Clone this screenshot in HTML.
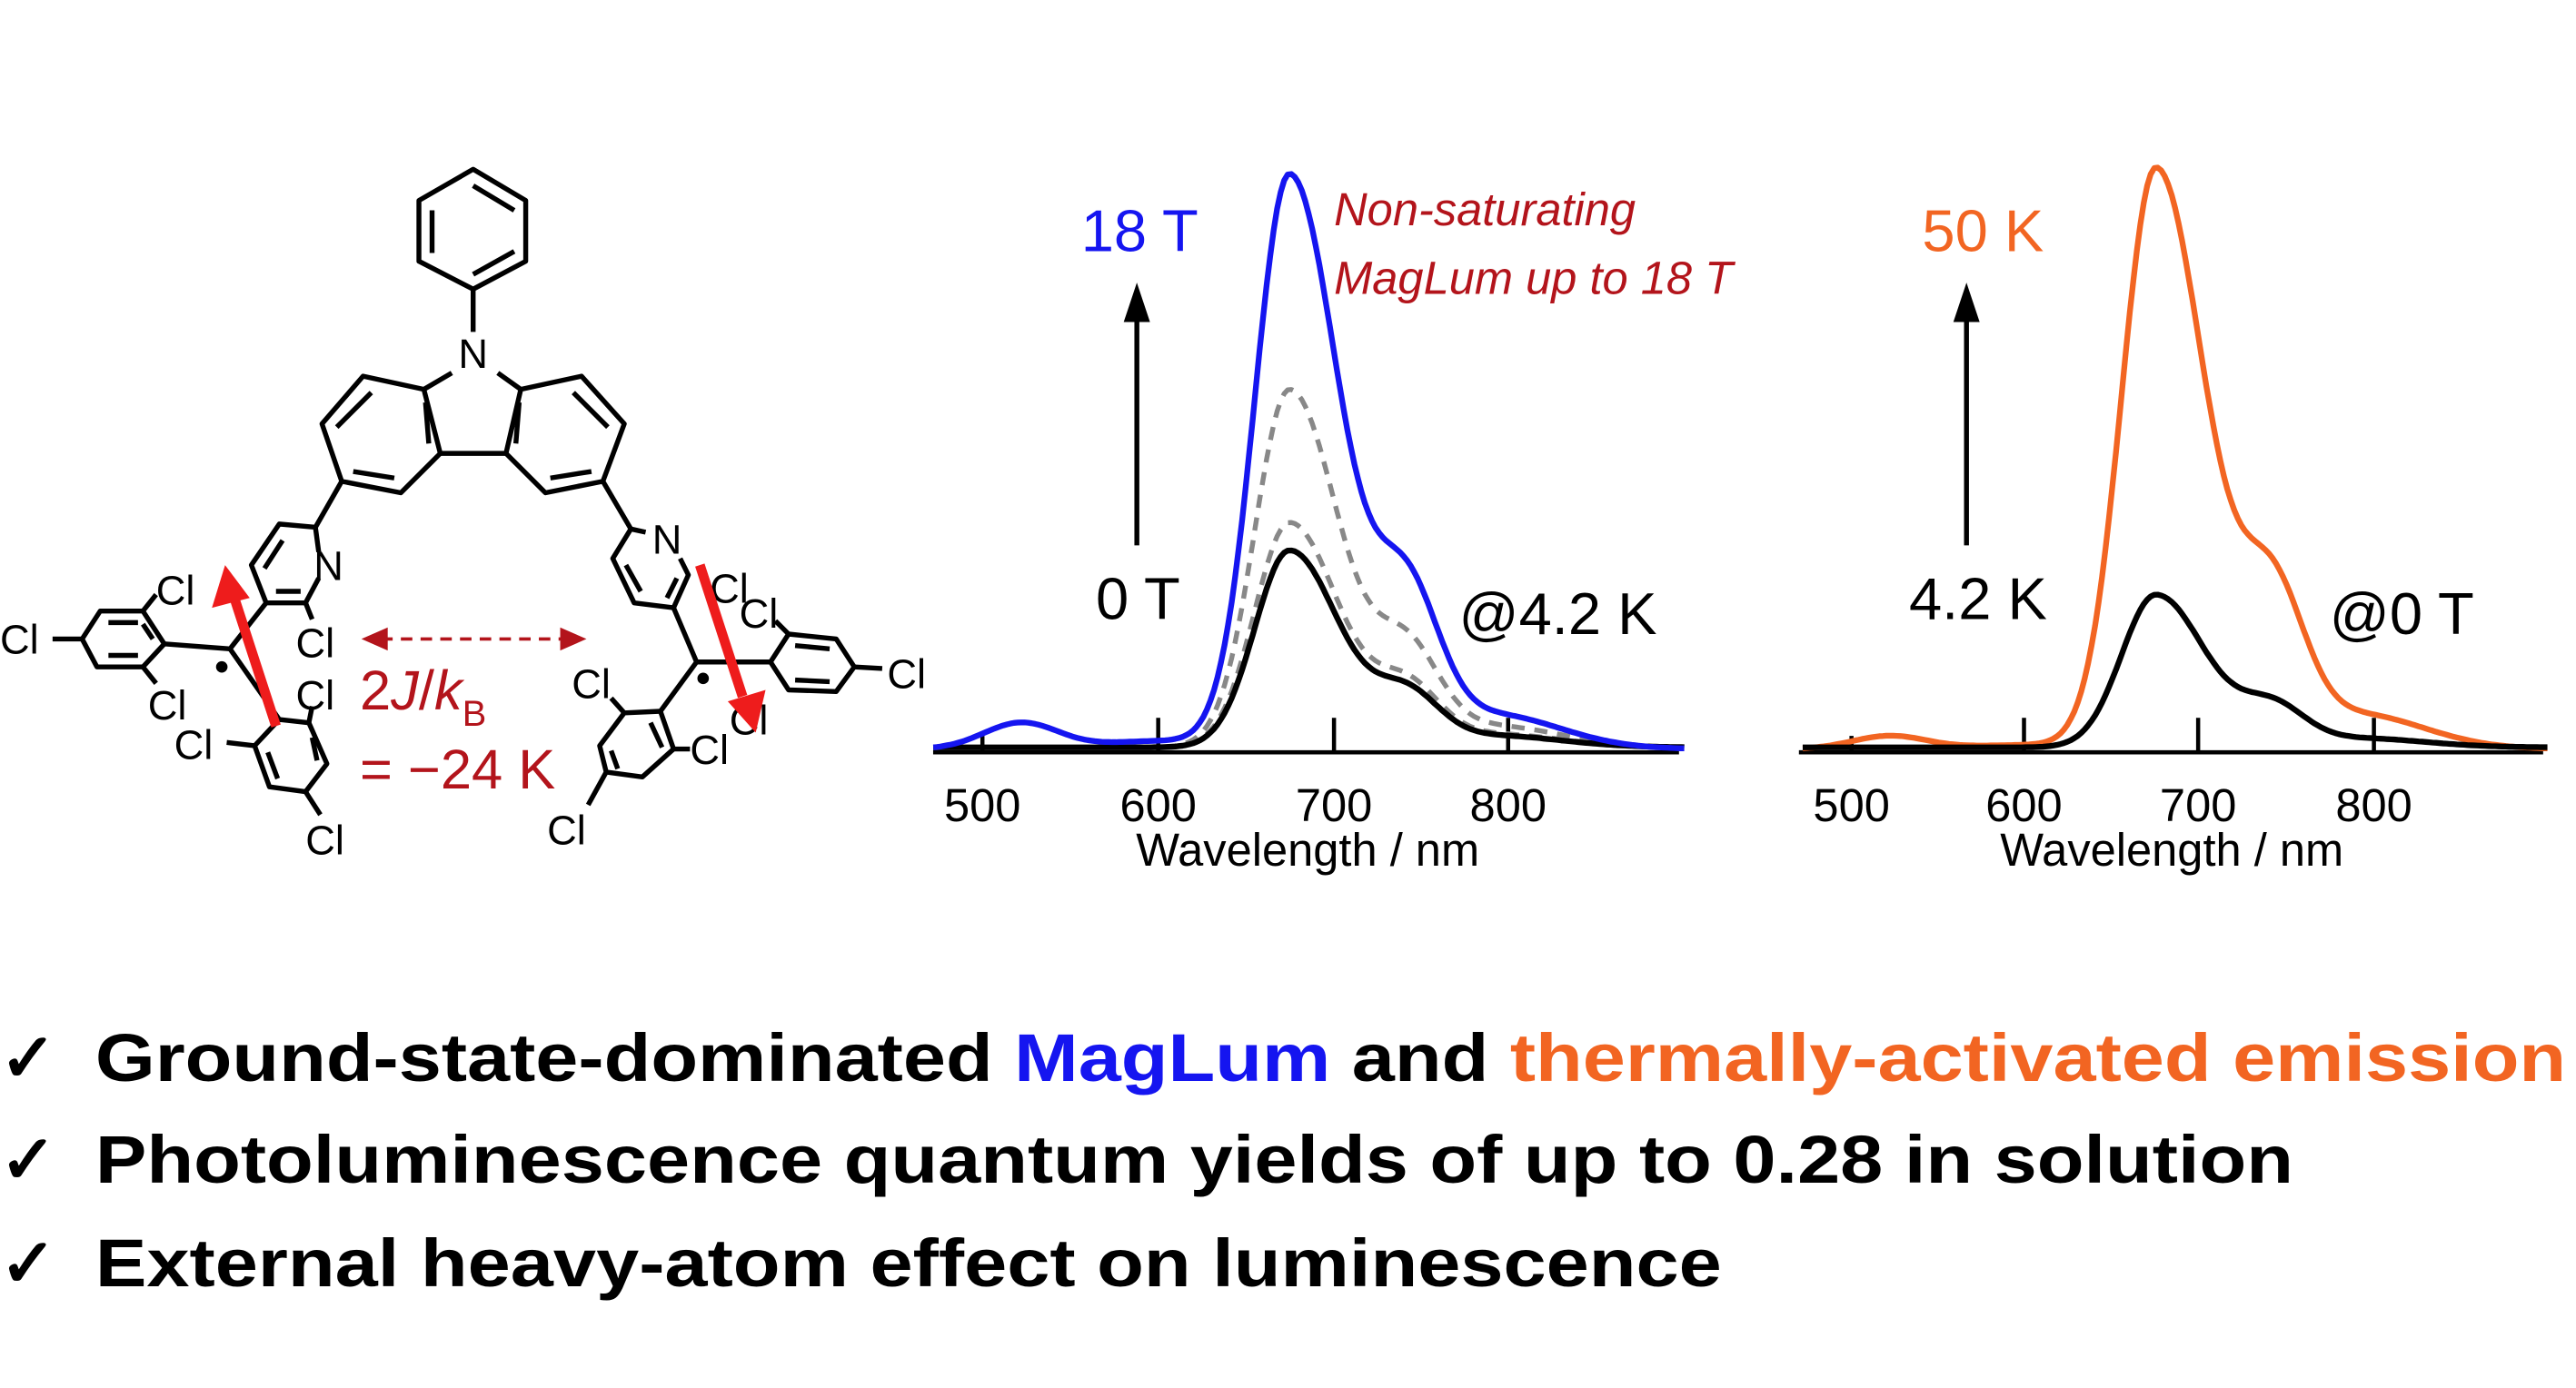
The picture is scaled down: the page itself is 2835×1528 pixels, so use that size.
<!DOCTYPE html>
<html><head><meta charset="utf-8"><style>
html,body{margin:0;padding:0;background:#fff;}
svg{display:block;}
text{font-family:"Liberation Sans",Arial,sans-serif;}
</style></head><body>
<svg id="s" width="2835" height="1528" viewBox="0 0 1568 845" xmlns="http://www.w3.org/2000/svg">
<g stroke="#000" stroke-width="3" fill="none" stroke-linejoin="round">
<polygon points="288,103 320,122 320,159 288,176 255,159 255,122"/>
<line x1="288" y1="113" x2="313" y2="128"/><line x1="263" y1="128" x2="263" y2="154"/><line x1="288" y1="167" x2="313" y2="153"/>
<line x1="288" y1="176" x2="288" y2="202"/>
<polyline points="275,227 258,237 221,229 196,258 208,293 244,300 268,276 258,237"/>
<polyline points="303,227 317,237 354,229 380,258 367,293 332,300 308,276 317,237"/>
<line x1="268" y1="276" x2="308" y2="276"/>
<line x1="226" y1="239" x2="205" y2="260"/><line x1="215" y1="287" x2="240" y2="291"/><line x1="259" y1="245" x2="261" y2="270"/>
<line x1="349" y1="239" x2="370" y2="260"/><line x1="360" y1="287" x2="335" y2="291"/><line x1="316" y1="245" x2="314" y2="270"/>
<line x1="208" y1="293" x2="192" y2="321"/>
<polyline points="194,336 192,321 170,319 153,344 162,367 186,367 194,352"/>
<line x1="172" y1="329" x2="161" y2="346"/><line x1="168" y1="360" x2="183" y2="360"/>
<line x1="186" y1="367" x2="190" y2="377"/>
<line x1="162" y1="367" x2="140" y2="395"/>
<line x1="140" y1="395" x2="100" y2="392"/>
<polygon points="100,392 87,372 61,372 50,389 59,406 87,406"/>
<line x1="66" y1="379" x2="84" y2="379"/><line x1="66" y1="399" x2="84" y2="399"/><line x1="93" y1="389" x2="87" y2="380"/>
<line x1="50" y1="389" x2="32" y2="389"/><line x1="87" y1="372" x2="95" y2="362"/><line x1="87" y1="406" x2="95" y2="416"/>
<line x1="140" y1="395" x2="170" y2="438"/>
<polygon points="170,438 155,454 164,479 186,482 199,465 188,440"/>
<line x1="163" y1="458" x2="169" y2="474"/><line x1="190" y1="449" x2="193" y2="463"/>
<line x1="155" y1="454" x2="138" y2="452"/><line x1="186" y1="482" x2="195" y2="496"/><line x1="188" y1="440" x2="190" y2="430"/>
<line x1="367" y1="293" x2="384" y2="322"/>
<polyline points="393,324 384,322 373,340 386,367 410,370 419,350 414,340"/>
<line x1="381" y1="344" x2="390" y2="360"/><line x1="412" y1="352" x2="406" y2="364"/>
<line x1="410" y1="370" x2="424" y2="403"/>
<line x1="424" y1="403" x2="469" y2="403"/>
<polygon points="469,403 480,386 509,389 520,406 509,421 480,420"/>
<line x1="484" y1="393" x2="505" y2="395"/><line x1="484" y1="414" x2="505" y2="415"/>
<line x1="520" y1="406" x2="537" y2="407"/><line x1="480" y1="386" x2="472" y2="378"/>
<line x1="424" y1="403" x2="402" y2="433"/>
<polygon points="402,433 410,456 391,473 369,470 365,454 380,434"/>
<line x1="372" y1="457" x2="376" y2="468"/><line x1="396" y1="440" x2="403" y2="455"/>
<line x1="410" y1="456" x2="420" y2="456"/><line x1="369" y1="470" x2="358" y2="490"/><line x1="380" y1="434" x2="372" y2="425"/>
</g>
<g font-size="25" fill="#000">
<text x="288" y="224" text-anchor="middle">N</text>
<text x="200" y="353" text-anchor="middle">N</text>
<text x="406" y="337" text-anchor="middle">N</text>
<text x="95" y="368">Cl</text><text x="0" y="398">Cl</text><text x="90" y="438">Cl</text>
<text x="180" y="400">Cl</text><text x="180" y="432">Cl</text><text x="106" y="462">Cl</text><text x="186" y="520">Cl</text>
<text x="432" y="367">Cl</text><text x="450" y="382">Cl</text><text x="540" y="419">Cl</text>
<text x="348" y="425">Cl</text><text x="420" y="465">Cl</text><text x="333" y="514">Cl</text><text x="444" y="447">Cl</text>
</g>
<circle cx="135" cy="406" r="3.5" fill="#000"/><circle cx="428" cy="413" r="3.5" fill="#000"/>
<g stroke="#ee1c1c" stroke-width="6" fill="#ee1c1c">
<line x1="168" y1="442" x2="142" y2="362"/>
<line x1="426" y1="344" x2="452" y2="424"/>
</g>
<polygon points="137,344 129,370 152,364" fill="#ee1c1c"/>
<polygon points="460,446 466,420 443,427" fill="#ee1c1c"/>
<g stroke="#b3141b" stroke-width="2" stroke-dasharray="7,5"><line x1="232" y1="389" x2="345" y2="389"/></g>
<polygon points="220,389 236,382 236,396" fill="#b3141b"/><polygon points="357,389 341,382 341,396" fill="#b3141b"/>
<text x="219" y="432" font-size="34" fill="#b3141b">2<tspan font-style="italic">J</tspan>/<tspan font-style="italic">k</tspan><tspan font-size="22" dy="10">B</tspan></text>
<text x="219" y="480" font-size="34" fill="#b3141b">= −24 K</text>

<g stroke="#000" stroke-width="2.5">
<line x1="568" y1="458" x2="1022" y2="458"/>
<line x1="598" y1="458" x2="598" y2="448"/><line x1="705" y1="458" x2="705" y2="437"/>
<line x1="812" y1="458" x2="812" y2="437"/><line x1="918" y1="458" x2="918" y2="437"/>
<line x1="1095" y1="458" x2="1548" y2="458"/>
<line x1="1127" y1="458" x2="1127" y2="448"/><line x1="1232" y1="458" x2="1232" y2="437"/>
<line x1="1338" y1="458" x2="1338" y2="437"/><line x1="1445" y1="458" x2="1445" y2="437"/>
</g>
<g id="curves" fill="none" stroke-width="3.5" stroke-linejoin="round"></g>
<g font-size="28" fill="#000" text-anchor="middle">
<text x="598" y="500">500</text><text x="705" y="500">600</text><text x="812" y="500">700</text><text x="918" y="500">800</text>
<text x="796" y="527">Wavelength / nm</text>
<text x="1127" y="500">500</text><text x="1232" y="500">600</text><text x="1338" y="500">700</text><text x="1445" y="500">800</text>
<text x="1322" y="527">Wavelength / nm</text>
</g>
<g stroke="#000" stroke-width="3"><line x1="692" y1="332" x2="692" y2="190"/><line x1="1197" y1="332" x2="1197" y2="190"/></g>
<polygon points="692,172 684,196 700,196" fill="#000"/><polygon points="1197,172 1189,196 1205,196" fill="#000"/>
<g font-size="36">
<text x="658" y="153" fill="#1515f0">18 T</text>
<text x="667" y="377" fill="#000">0 T</text>
<text x="888" y="386" fill="#000">@4.2 K</text>
<text x="1170" y="153" fill="#f26522">50 K</text>
<text x="1162" y="377" fill="#000">4.2 K</text>
<text x="1418" y="386" fill="#000">@0 T</text>
</g>
<g font-size="28" font-style="italic" fill="#b3141b">
<text x="812" y="137">Non-saturating</text>
<text x="812" y="179">MagLum up to 18 T</text>
</g>
<g font-size="41" font-weight="bold" fill="#000">
<text x="0" y="658">✓</text><text x="0" y="720">✓</text><text x="0" y="783">✓</text>
<text x="58" y="658" textLength="1504" lengthAdjust="spacingAndGlyphs">Ground-state-dominated <tspan fill="#1515f0">MagLum</tspan> and <tspan fill="#f26522">thermally-activated emission</tspan></text>
<text x="58" y="720" textLength="1338" lengthAdjust="spacingAndGlyphs">Photoluminescence quantum yields of up to 0.28 in solution</text>
<text x="58" y="783" textLength="990" lengthAdjust="spacingAndGlyphs">External heavy-atom effect on luminescence</text>
</g>
</svg>
<script>
function shape(nm){
  var w = nm<675?28:40;
  var m=Math.exp(-Math.pow((nm-675)/w,2));
  var sh=0.24*Math.exp(-Math.pow((nm-742)/26,2));
  var tail=0.06*Math.exp(-Math.pow((nm-790)/55,2));
  return m+sh+tail;
}
var S0=shape(675);
function path(x0,sc,base,h,bump,col,dash){
  var d="";
  for(var nm=472;nm<=900;nm+=2){
    var x=x0+(nm-500)*sc;
    var y=base-h*shape(nm)/S0-bump*Math.exp(-Math.pow((nm-522)/30,2))-bump*0.3*Math.exp(-Math.pow((nm-600)/45,2));
    d+=(d?"L":"M")+x.toFixed(1)+","+y.toFixed(1);
  }
  var p=document.createElementNS("http://www.w3.org/2000/svg","path");
  p.setAttribute("d",d);p.setAttribute("stroke",col);
  if(dash){p.setAttribute("stroke-dasharray",dash);p.setAttribute("stroke-width","3");}
  document.getElementById("curves").appendChild(p);
}
path(598,1.068,455,137,0,"#888","8,6");
path(598,1.068,455,218,0,"#888","8,6");
path(598,1.068,455,120,0,"#000");
path(598,1.068,456,350,16,"#1515f0");
path(1127,1.059,456,354,8,"#f26522");
path(1127,1.059,455,93,0,"#000");
</script>
</body></html>
